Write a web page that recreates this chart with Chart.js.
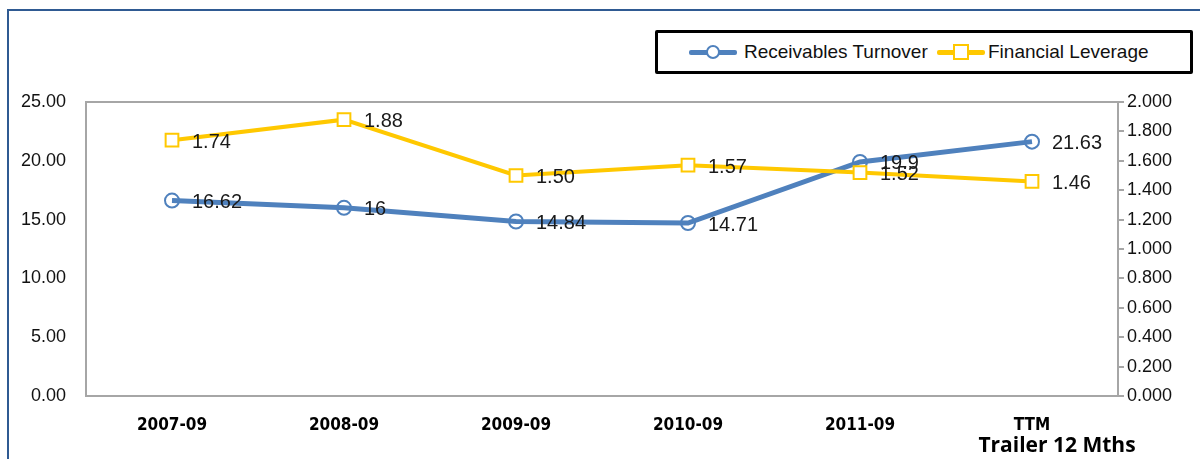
<!DOCTYPE html>
<html>
<head>
<meta charset="utf-8">
<script src="https://cdn.jsdelivr.net/npm/chart.js@4.4.1/dist/chart.umd.min.js"></script>
<style>
  body { margin: 0; background: #fff; }
  #wrap { position: relative; width: 1200px; height: 459px; overflow: hidden; }
  #frame { position: absolute; left: 7px; top: 9px; width: 1300px; height: 600px;
           border-left: 2px solid #2f5a92; border-top: 2px solid #2f5a92; }
  #legend { position: absolute; left: 655px; top: 30px; width: 532px; height: 38px;
            border: 3px solid #000; border-radius: 2px; background: #fff;
            font-family: 'Liberation Sans', Arial, sans-serif;
            font-size: 19px; color: #111; }
  .item { position: absolute; top: 0; height: 38px; line-height: 38px; }
  .swatch { position: absolute; top: 17px; height: 5px; width: 48px; border-radius: 2px; }
  .mk { position: absolute; background: #fff; box-sizing: border-box; }
  .txt { position: absolute; white-space: nowrap; }
  canvas { position: absolute; left: 0; top: 0; }
</style>
</head>
<body>
<div id="wrap">
  <div id="frame"></div>
  <canvas id="ratioChart" width="1200" height="459"></canvas>
  <div id="legend"></div>
</div>
<script>
const categories = ["2007-09", "2008-09", "2009-09", "2010-09", "2011-09", "TTM"];
const receivablesTurnover = [16.62, 16, 14.84, 14.71, 19.9, 21.63];
const financialLeverage = [1.74, 1.88, 1.50, 1.57, 1.52, 1.46];
const seriesNames = ["Receivables Turnover", "Financial Leverage"];
const leftTicks = [0, 5, 10, 15, 20, 25];
const rightTicks = [0, 0.2, 0.4, 0.6, 0.8, 1.0, 1.2, 1.4, 1.6, 1.8, 2.0];
const ttmNote = "Trailer 12 Mths";

const blue = "#4f81bd";
const yellow = "#ffc800";
const sans = "'Liberation Sans', Arial, sans-serif";
const condensed = "'DejaVu Sans Condensed', sans-serif";

// legend (html box, thick black frame)
const legend = document.getElementById("legend");
legend.innerHTML =
  '<div class="item" style="left:31px">' +
    '<div class="swatch" style="left:0;background:' + blue + '"></div>' +
    '<div class="mk" style="left:17px;top:12px;width:14px;height:14px;border:2px solid ' + blue + ';border-radius:50%"></div>' +
    '<div class="txt" style="left:55px">' + seriesNames[0] + '</div></div>' +
  '<div class="item" style="left:279px">' +
    '<div class="swatch" style="left:0;background:' + yellow + '"></div>' +
    '<div class="mk" style="left:16px;top:11px;width:16px;height:16px;border:2px solid ' + yellow + '"></div>' +
    '<div class="txt" style="left:51px">' + seriesNames[1] + '</div></div>';

// frame around plot area
const plotBox = {
  id: "plotBox",
  beforeDatasetsDraw(chart) {
    const a = chart.chartArea, ctx = chart.ctx;
    ctx.save();
    ctx.strokeStyle = "#a6a6a6";
    ctx.lineWidth = 2;
    ctx.strokeRect(a.left, a.top, a.right - a.left, a.bottom - a.top);
    ctx.restore();
  }
};

// value labels to the right of each point
const valueLabels = {
  id: "valueLabels",
  afterDatasetsDraw(chart) {
    const ctx = chart.ctx;
    ctx.save();
    ctx.font = "20px " + sans;
    ctx.fillStyle = "#1a1a1a";
    ctx.textAlign = "left";
    ctx.textBaseline = "middle";
    chart.data.datasets.forEach((ds, i) => {
      chart.getDatasetMeta(i).data.forEach((pt, j) => {
        const v = ds.data[j];
        const s = i === 1 ? v.toFixed(2) : String(v);
        ctx.fillText(s, pt.x + 20, pt.y + 2);
      });
    });
    ctx.restore();
  }
};

// second line under the TTM tick
const ttmLabel = {
  id: "ttmLabel",
  afterDraw(chart) {
    const x = chart.scales.x.getPixelForValue(categories.length - 1);
    const ctx = chart.ctx;
    ctx.save();
    ctx.font = "bold 21px 'Open Sans', sans-serif";
    ctx.fillStyle = "#000";
    ctx.textAlign = "center";
    ctx.textBaseline = "middle";
    ctx.fillText(ttmNote, x + 25, 446);
    ctx.restore();
  }
};

const chartEl = document.getElementById("ratioChart");

new Chart(chartEl, {
  type: "line",
  data: {
    labels: categories,
    datasets: [
      {
        label: seriesNames[0],
        data: receivablesTurnover,
        yAxisID: "y",
        borderColor: blue,
        borderWidth: 5,
        pointStyle: "circle",
        pointRadius: 7,
        pointBorderWidth: 2,
        pointBackgroundColor: "rgba(255,255,255,0)",
        pointBorderColor: blue,
        tension: 0,
        order: 1
      },
      {
        label: seriesNames[1],
        data: financialLeverage,
        yAxisID: "y1",
        borderColor: yellow,
        borderWidth: 4,
        pointStyle: "rect",
        pointRadius: 9,
        pointBorderWidth: 2,
        pointBackgroundColor: "#fff",
        pointBorderColor: yellow,
        tension: 0,
        order: 0
      }
    ]
  },
  options: {
    responsive: false,
    animation: false,
    layout: { padding: { left: 0, right: 0, top: 102, bottom: 0 } },
    plugins: {
      legend: { display: false },
      tooltip: { enabled: false }
    },
    scales: {
      x: {
        offset: true,
        grid: { display: false, drawTicks: false },
        border: { display: false },
        ticks: {
          padding: 19,
          color: "#000",
          font: { family: condensed, size: 17, weight: "bold" }
        },
        afterFit(scale) { scale.height = 63; }
      },
      y: {
        position: "left",
        min: 0,
        max: 25,
        afterBuildTicks(scale) { scale.ticks = leftTicks.map(v => ({ value: v })); },
        grid: { display: false, drawTicks: false },
        border: { display: false },
        ticks: {
          padding: 20,
          color: "#111",
          font: { family: sans, size: 18 },
          callback: v => v.toFixed(2)
        },
        afterFit(scale) { scale.width = 86; }
      },
      y1: {
        position: "right",
        min: 0,
        max: 2,
        afterBuildTicks(scale) { scale.ticks = rightTicks.map(v => ({ value: v })); },
        grid: { display: true, drawOnChartArea: false, drawTicks: true, tickLength: 6, color: "#a6a6a6", lineWidth: 2 },
        border: { display: false },
        ticks: {
          padding: 3,
          color: "#111",
          font: { family: sans, size: 18 },
          callback: v => v.toFixed(3)
        },
        afterFit(scale) { scale.width = 82; }
      }
    }
  },
  plugins: [plotBox, valueLabels, ttmLabel]
});
</script>
</body>
</html>
